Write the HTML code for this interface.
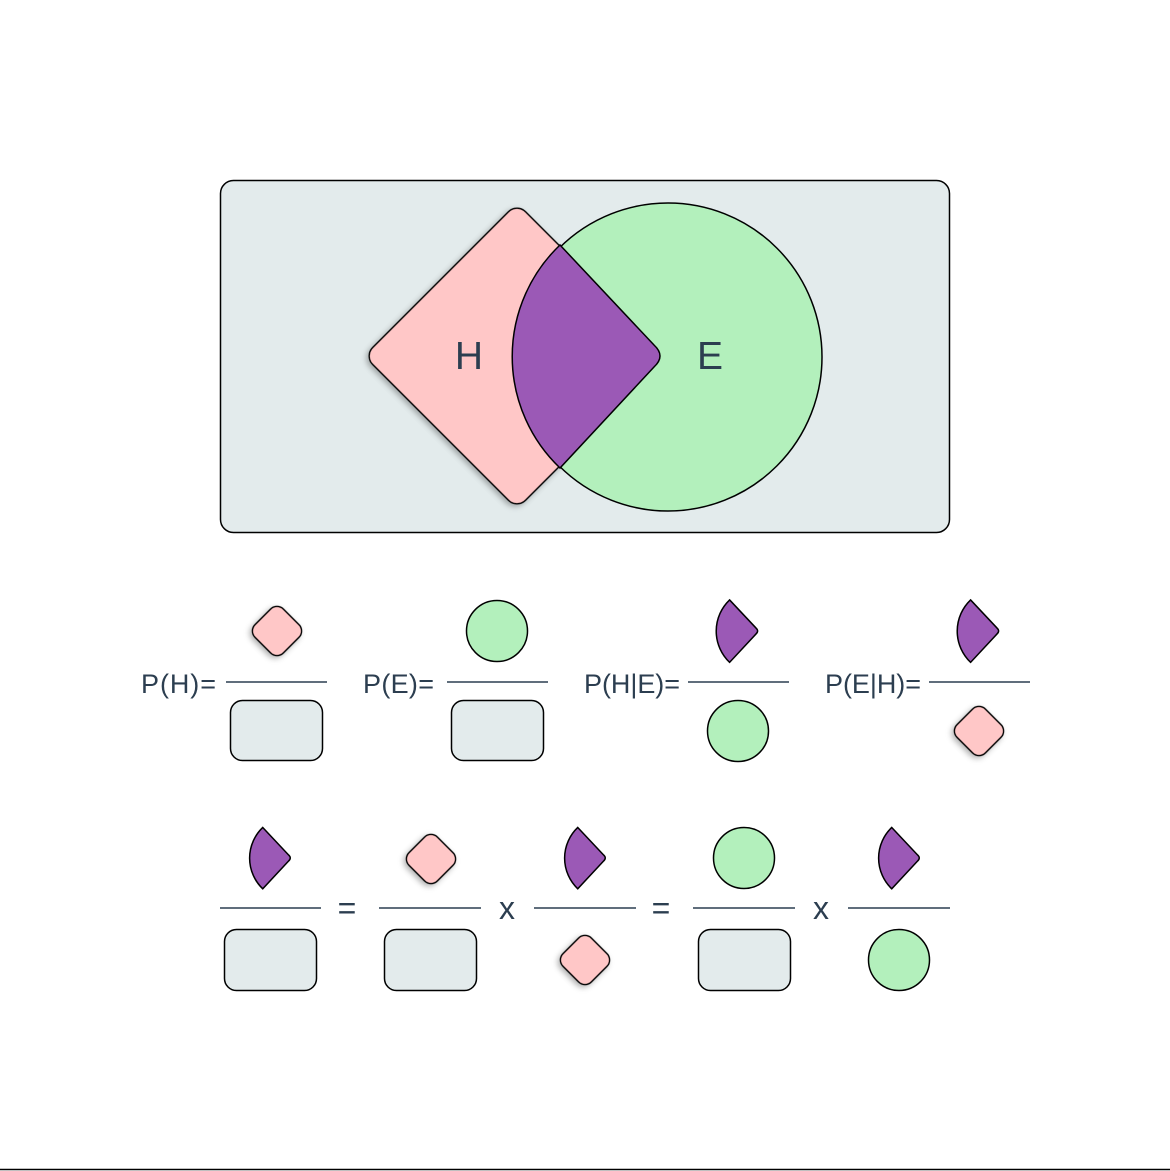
<!DOCTYPE html>
<html><head><meta charset="utf-8"><style>html,body{margin:0;padding:0;background:#fff}svg{display:block}</style></head><body>
<svg width="1170" height="1171" viewBox="0 0 1170 1171" xmlns="http://www.w3.org/2000/svg">
<defs>
<filter id="sh" x="-30%" y="-30%" width="160%" height="170%"><feDropShadow dx="0" dy="3" stdDeviation="3" flood-color="#000" flood-opacity="0.3"/></filter>
<path id="leaf" d="M560,245 L654,345 Q666,356 654,367 L560,468 A154,154 0 0 1 560,245 Z"/>
</defs>
<rect x="0" y="0" width="1170" height="1171" fill="#fff"/>
<line x1="0" y1="1169.5" x2="1170" y2="1169.5" stroke="#000" stroke-width="1.5"/>
<rect x="220.5" y="180.5" width="729" height="352" rx="13" fill="#e3ebec" stroke="#000" stroke-width="1.5"/>
<rect x="409" y="248" width="216" height="216" rx="12" transform="rotate(45 517 356)" fill="#ffc7c7" stroke="#000" stroke-width="1.5" filter="url(#sh)"/>
<circle cx="668" cy="357" r="154" fill="#b3f0bc" stroke="#000" stroke-width="1.5"/>
<use href="#leaf" fill="#9b59b6" stroke="#000" stroke-width="1.5"/>
<g font-family="Liberation Sans, sans-serif" fill="#2c3e50">
<text x="469" y="369" font-size="39" text-anchor="middle">H</text>
<text x="710" y="369" font-size="39" text-anchor="middle">E</text>
<text x="141" y="693" font-size="27" textLength="75">P(H)=</text>
<text x="363" y="693" font-size="27" textLength="71">P(E)=</text>
<text x="584" y="693" font-size="27" textLength="96">P(H|E)=</text>
<text x="825" y="693" font-size="27" textLength="96">P(E|H)=</text>
<text x="347" y="919" font-size="32" text-anchor="middle">=</text>
<text x="507" y="919" font-size="32" text-anchor="middle">x</text>
<text x="661" y="919" font-size="32" text-anchor="middle">=</text>
<text x="821" y="919" font-size="32" text-anchor="middle">x</text>
</g>
<g stroke="#2c3e50" stroke-width="1.5">
<line x1="226" y1="682" x2="327" y2="682"/>
<line x1="447" y1="682" x2="548" y2="682"/>
<line x1="688" y1="682" x2="789" y2="682"/>
<line x1="929" y1="682" x2="1030" y2="682"/>
<line x1="220" y1="908" x2="321" y2="908"/>
<line x1="379" y1="908" x2="481" y2="908"/>
<line x1="534" y1="908" x2="636" y2="908"/>
<line x1="693" y1="908" x2="795" y2="908"/>
<line x1="848" y1="908" x2="950" y2="908"/>
</g>
<g stroke="#000" stroke-width="1.5">
<rect x="257" y="611" width="40" height="40" rx="9" transform="rotate(45 277 631)" fill="#ffc7c7" filter="url(#sh)"/>
<rect x="230.5" y="700.5" width="92" height="60" rx="12" fill="#e3ebec"/>
<circle cx="497" cy="631" r="30.5" fill="#b3f0bc"/>
<rect x="451.5" y="700.5" width="92" height="60" rx="12" fill="#e3ebec"/>
<use href="#leaf" transform="translate(738 631) scale(0.28) translate(-590 -356)" fill="#9b59b6" stroke-width="5.4"/>
<circle cx="738" cy="731" r="30.5" fill="#b3f0bc"/>
<use href="#leaf" transform="translate(979 631) scale(0.28) translate(-590 -356)" fill="#9b59b6" stroke-width="5.4"/>
<rect x="959" y="711" width="40" height="40" rx="9" transform="rotate(45 979 731)" fill="#ffc7c7" filter="url(#sh)"/>
<use href="#leaf" transform="translate(271 858) scale(0.275) translate(-590 -356)" fill="#9b59b6" stroke-width="5.5"/>
<rect x="224.5" y="929.5" width="92" height="61" rx="12" fill="#e3ebec"/>
<rect x="411" y="839" width="40" height="40" rx="9" transform="rotate(45 431 859)" fill="#ffc7c7" filter="url(#sh)"/>
<rect x="384.5" y="929.5" width="92" height="61" rx="12" fill="#e3ebec"/>
<use href="#leaf" transform="translate(586 858) scale(0.275) translate(-590 -356)" fill="#9b59b6" stroke-width="5.5"/>
<rect x="565" y="940" width="40" height="40" rx="9" transform="rotate(45 585 960)" fill="#ffc7c7" filter="url(#sh)"/>
<circle cx="744" cy="858" r="30.5" fill="#b3f0bc"/>
<rect x="698.5" y="929.5" width="92" height="61" rx="12" fill="#e3ebec"/>
<use href="#leaf" transform="translate(900 858) scale(0.275) translate(-590 -356)" fill="#9b59b6" stroke-width="5.5"/>
<circle cx="899" cy="960" r="30.5" fill="#b3f0bc"/>
</g>
</svg>
</body></html>
